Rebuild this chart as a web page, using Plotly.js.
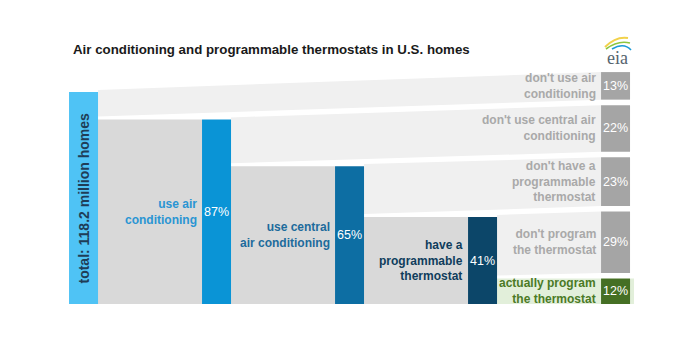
<!DOCTYPE html>
<html>
<head>
<meta charset="utf-8">
<script src="https://cdn.plot.ly/plotly-3.0.1.min.js"></script>
<style>html,body{margin:0;padding:0;background:#fff;}#chart{width:700px;height:350px;}</style>
</head>
<body>
<div id="chart"></div>
<script>
// ---- data ----
const chartTitle = "Air conditioning and programmable thermostats in U.S. homes";
const stageLabels = ["total: 118.2 million homes", "use air<br>conditioning", "use central<br>air conditioning", "have a<br>programmable<br>thermostat"];
const stageShares = [100, 87, 65, 41];
const stageText = ["", "87%", "65%", "41%"];
const outcomeLabels = ["don't use air<br>conditioning", "don't use central air<br>conditioning", "don't have a<br>programmable<br>thermostat", "don't program<br>the thermostat", "actually program<br>the thermostat"];
const outcomeShares = [13, 22, 23, 29, 12];
const outcomeText = ["13%", "22%", "23%", "29%", "12%"];

// ---- layout / style constants ----
const BW = 0.218;          // bar width in x units
const GAP = 2.6;           // gap between stacked outcome bars (y units)
const OUT_X = 4;           // x position of outcome column
const FONT = "Liberation Sans, Arial, sans-serif";
const stageColors = ["#4fc3f5", "#0a94d6", "#0d6ea3", "#0c4669"];
const stageTextColors = ["#1f3d57", "#2a95d3", "#1d6b9c", "#0f3d5c"];
const outcomeColors = ["#a5a5a5", "#a5a5a5", "#a5a5a5", "#a5a5a5", "#456f24"];
const outcomeLabelColors = ["#a9a9a9", "#a9a9a9", "#a9a9a9", "#a9a9a9", "#4b7a26"];
const bandColors = ["#f0f0f0", "#f0f0f0", "#f0f0f0", "#f0f0f0", "#e2efda"];
const blockColor = "#d9d9d9";

// outcome stacking from bottom (last outcome) to top (first)
const outBase = new Array(outcomeShares.length);
let cum = 0;
for (let j = outcomeShares.length - 1; j >= 0; j--) {
  outBase[j] = cum;
  cum += outcomeShares[j] + GAP;
}

const traces = [];
// stage bars
traces.push({
  type: "bar",
  x: stageShares.map((_, i) => i),
  y: stageShares,
  width: BW,
  marker: {color: stageColors, line: {width: 0}},
  hoverinfo: "skip",
  showlegend: false
});
// outcome bars
traces.push({
  type: "bar",
  x: outcomeShares.map(() => OUT_X),
  y: outcomeShares,
  base: outBase,
  width: BW,
  marker: {color: outcomeColors, line: {width: 0}},
  hoverinfo: "skip",
  showlegend: false
});

const shapes = [];
// gray blocks between stages
for (let i = 0; i < stageShares.length - 1; i++) {
  shapes.push({
    type: "rect", layer: "below", xref: "x", yref: "y",
    x0: i + BW / 2, x1: i + 1 - BW / 2, y0: 0, y1: stageShares[i + 1],
    fillcolor: blockColor, line: {width: 0}
  });
}
// bands from stages to outcomes
function band(xl, yl0, yl1, xr, yr0, yr1, color) {
  shapes.push({
    type: "path", layer: "below", xref: "x", yref: "y",
    path: `M ${xl} ${yl0} L ${xl} ${yl1} L ${xr} ${yr1} L ${xr} ${yr0} Z`,
    fillcolor: color, line: {width: 0}
  });
}
const xr = OUT_X - BW / 2;
for (let k = 0; k < 3; k++) {
  band(k + BW / 2, stageShares[k + 1] + 1.4, stageShares[k] + 1,
       xr, outBase[k], outBase[k] + outcomeShares[k], bandColors[k]);
}
const last = stageShares.length - 1;
band(last + BW / 2, outcomeShares[4] + 1.4, stageShares[last] + 1,
     xr, outBase[3], outBase[3] + outcomeShares[3], bandColors[3]);
band(last + BW / 2, 0, outcomeShares[4],
     xr + BW + 0.03, 0, outcomeShares[4], bandColors[4]);

// eia logo swoosh (decoration, pixel-based paper coords)
const px = (x) => x / 700, py = (y) => 1 - y / 350;
shapes.push({type: "path", xref: "paper", yref: "paper",
  path: `M ${px(605)} ${py(47)} Q ${px(616)} ${py(36)} ${px(628)} ${py(38)}`,
  line: {color: "#f2d24b", width: 2}});
shapes.push({type: "path", xref: "paper", yref: "paper",
  path: `M ${px(606)} ${py(49)} Q ${px(618)} ${py(40)} ${px(630)} ${py(43)}`,
  line: {color: "#8dc63f", width: 1.6}});
shapes.push({type: "path", xref: "paper", yref: "paper",
  path: `M ${px(612)} ${py(49)} Q ${px(624)} ${py(42)} ${px(631)} ${py(50)}`,
  line: {color: "#1b9bd7", width: 1.6}});

const annotations = [];
annotations.push({
  xref: "paper", yref: "paper", x: px(71), y: py(50), xanchor: "left", yanchor: "middle",
  text: "<b>" + chartTitle + "</b>", showarrow: false,
  font: {family: FONT, size: 13.3, color: "#1a1a1a"}
});
annotations.push({
  xref: "paper", yref: "paper", x: px(617), y: py(58), xanchor: "center", yanchor: "middle",
  text: "eia", showarrow: false,
  font: {family: "Liberation Serif, DejaVu Serif, serif", size: 18, color: "#56646e"}
});
// total label (rotated)
annotations.push({
  xref: "x", yref: "y", x: 0, y: stageShares[0] / 2, textangle: -90,
  text: "<b>" + stageLabels[0] + "</b>", showarrow: false,
  font: {family: FONT, size: 14, color: stageTextColors[0]}
});
for (let i = 1; i < stageShares.length; i++) {
  annotations.push({
    xref: "x", yref: "y", x: i - BW / 2, xshift: -3, y: stageShares[i] / 2,
    xanchor: "right", yanchor: "middle", align: "right",
    text: "<b>" + stageLabels[i] + "</b>", showarrow: false,
    font: {family: FONT, size: 12, color: stageTextColors[i]}
  });
  annotations.push({
    xref: "x", yref: "y", x: i, y: stageShares[i] / 2,
    xanchor: "center", yanchor: "middle",
    text: stageText[i], showarrow: false,
    font: {family: FONT, size: 12.5, color: "#ffffff"}
  });
}
for (let j = 0; j < outcomeShares.length; j++) {
  const yc = outBase[j] + outcomeShares[j] / 2;
  annotations.push({
    xref: "x", yref: "y", x: OUT_X - BW / 2, xshift: -3, y: yc,
    xanchor: "right", yanchor: "middle", align: "right",
    text: "<b>" + outcomeLabels[j] + "</b>", showarrow: false,
    font: {family: FONT, size: 12, color: outcomeLabelColors[j]}
  });
  annotations.push({
    xref: "x", yref: "y", x: OUT_X, y: yc,
    xanchor: "center", yanchor: "middle",
    text: outcomeText[j], showarrow: false,
    font: {family: FONT, size: 12.5, color: "#ffffff"}
  });
}

const layout = {
  width: 700, height: 350,
  margin: {l: 0, r: 0, t: 0, b: 0},
  paper_bgcolor: "#ffffff", plot_bgcolor: "#ffffff",
  barmode: "overlay",
  xaxis: {range: [-0.628, 4.635], visible: false, fixedrange: true},
  yaxis: {range: [-21.7, 143.4], visible: false, fixedrange: true},
  showlegend: false,
  shapes: shapes,
  annotations: annotations
};

Plotly.newPlot("chart", traces, layout, {staticPlot: true, displayModeBar: false});
</script>
</body>
</html>
